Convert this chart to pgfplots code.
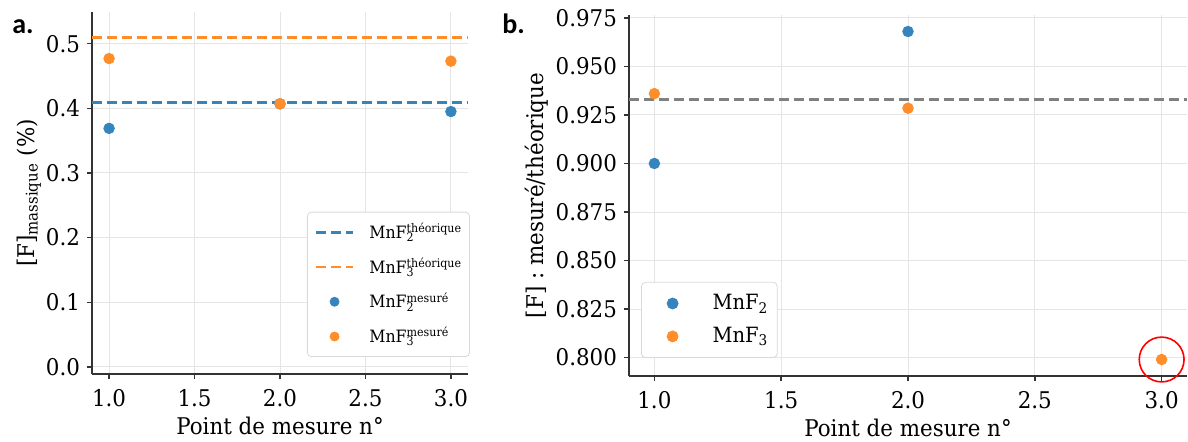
\documentclass[border=0pt]{standalone}
\usepackage{pgfplots}
\pgfplotsset{compat=1.18}
\usepackage{fontspec}
\setmainfont{DejaVu Serif}[FakeStretch=0.93]
\newfontfamily\panelfont{Carlito}
\definecolor{cblue}{RGB}{53,133,188}
\definecolor{corange}{RGB}{254,141,42}
\definecolor{cline}{RGB}{51,51,51}
\newcommand\lsub[1]{\textsubscript{#1}}
\newcommand\mnf[2]{MnF\rlap{\textsubscript{#1}}\textsuperscript{#2}}
\pgfplotsset{mystyle/.style={
  scale only axis, axis lines=left, axis line style={-, line width=0.9pt, cline},
  tick align=outside, major tick length=2.5pt, tick style={line width=0.7pt, cline},
  grid=major, grid style={line width=0.5pt, black!10},
  tick label style={font=\fontsize{11.5}{13}\selectfont},
  label style={font=\fontsize{11.5}{13}\selectfont},
  /pgf/number format/assume math mode=true,
  /pgf/number format/fixed, /pgf/number format/fixed zerofill,
  xmin=0.9, xmax=3.1, xtick={1,1.5,2,2.5,3},
  xticklabel style={/pgf/number format/precision=1, yshift=-1.5pt},
  clip=false,
  xlabel={Point de mesure n°},
  xlabel style={at={(axis description cs:0.5,-0.144)}, anchor=center},
},
legA mark/.style={legend image code/.code={\path (0pt,0pt) (26pt,0pt); \draw[##1, mark size=2.3pt] plot coordinates {(9.25pt,0pt)};}},
legA line/.style={legend image code/.code={\path (0pt,0pt) (26pt,0pt); \draw[##1] (0pt,0pt) -- (18.5pt,0pt);}},
legB mark/.style={legend image code/.code={\path (0pt,0pt) (30.8pt,0pt); \draw[##1, mark size=2.8pt] plot coordinates {(11pt,0pt)};}},
}
\begin{document}
\begin{tikzpicture}
\useasboundingbox (0,0) rectangle (594pt,220.5pt);
% ---------- panel a
\begin{axis}[mystyle,
  at={(46pt,33.5pt)}, anchor=south west, width=188pt, height=181pt,
  ymin=-0.011, ymax=0.549, ytick={0,0.1,0.2,0.3,0.4,0.5},
  yticklabel style={/pgf/number format/precision=1},
  ylabel={[F]\lsub{massique} (\%)},
  ylabel style={at={(axis description cs:-0.168,0.5)}, anchor=center, rotate=0},
  legend style={at={(1.005,0.047)}, anchor=south east, draw=black!15, rounded corners=2pt,
    fill=white, font=\fontsize{8.5}{10}\selectfont, row sep=6.3pt,
    inner xsep=3.7pt, inner ysep=4.5pt, nodes={inner xsep=0pt, inner ysep=1pt}},
  legend cell align=left,
]
\addplot[cblue, legA line, line width=1.3pt, dash pattern=on 5pt off 2.5pt] coordinates {(0.9,0.409) (3.1,0.409)};
\addlegendentry{\mnf{2}{théorique}}
\addplot[corange, legA line, line width=1.3pt, dash pattern=on 5pt off 2.5pt] coordinates {(0.9,0.510) (3.1,0.510)};
\addlegendentry{\mnf{3}{théorique}}
\addplot[only marks, legA mark, mark=*, mark size=2.7pt, mark options={draw=cblue, fill=cblue, line width=0.3pt}] coordinates {(1,0.369) (2,0.407) (3,0.395)};
\addlegendentry{\mnf{2}{mesuré}}
\addplot[only marks, legA mark, mark=*, mark size=2.7pt, mark options={draw=corange, fill=corange, line width=0.3pt}] coordinates {(1,0.477) (2,0.407) (3,0.473)};
\addlegendentry{\mnf{3}{mesuré}}
\end{axis}
% ---------- panel b
\begin{axis}[mystyle,
  at={(314.5pt,32.5pt)}, anchor=south west, width=279pt, height=180.5pt,
  ymin=0.7905, ymax=0.9765, ytick={0.8,0.825,0.85,0.875,0.9,0.925,0.95,0.975},
  yticklabel style={/pgf/number format/precision=3},
  ylabel={[F] : mesuré/théorique},
  ylabel style={at={(axis description cs:-0.165,0.5)}, anchor=center, rotate=0},
  legend style={at={(0.0215,0.05)}, anchor=south west, draw=black!15, rounded corners=2pt,
    fill=white, font=\fontsize{10.5}{12}\selectfont, row sep=5.3pt,
    inner xsep=4.4pt, inner ysep=5pt, nodes={inner xsep=0pt, inner ysep=1pt}},
  legend cell align=left,
]
\addplot[gray, line width=1.3pt, dash pattern=on 5pt off 2.5pt, forget plot] coordinates {(0.9,0.933) (3.1,0.933)};
\addplot[only marks, legB mark, mark=*, mark size=2.7pt, mark options={draw=cblue, fill=cblue, line width=0.3pt}] coordinates {(1,0.900) (2,0.968)};
\addlegendentry{MnF\lsub{2}}
\addplot[only marks, legB mark, mark=*, mark size=2.7pt, mark options={draw=corange, fill=corange, line width=0.3pt}] coordinates {(1,0.936) (2,0.9285) (3,0.799)};
\addlegendentry{MnF\lsub{3}}
\addplot[only marks, mark=o, mark size=11.2pt, mark options={draw=red, line width=0.8pt}, forget plot] coordinates {(3,0.799)};
\end{axis}
\node[anchor=base west, font=\panelfont\bfseries\fontsize{14}{16}\selectfont, inner sep=0pt] at (6pt,204pt) {a.};
\node[anchor=base west, font=\panelfont\bfseries\fontsize{14}{16}\selectfont, inner sep=0pt] at (251pt,204pt) {b.};
\end{tikzpicture}
\end{document}
